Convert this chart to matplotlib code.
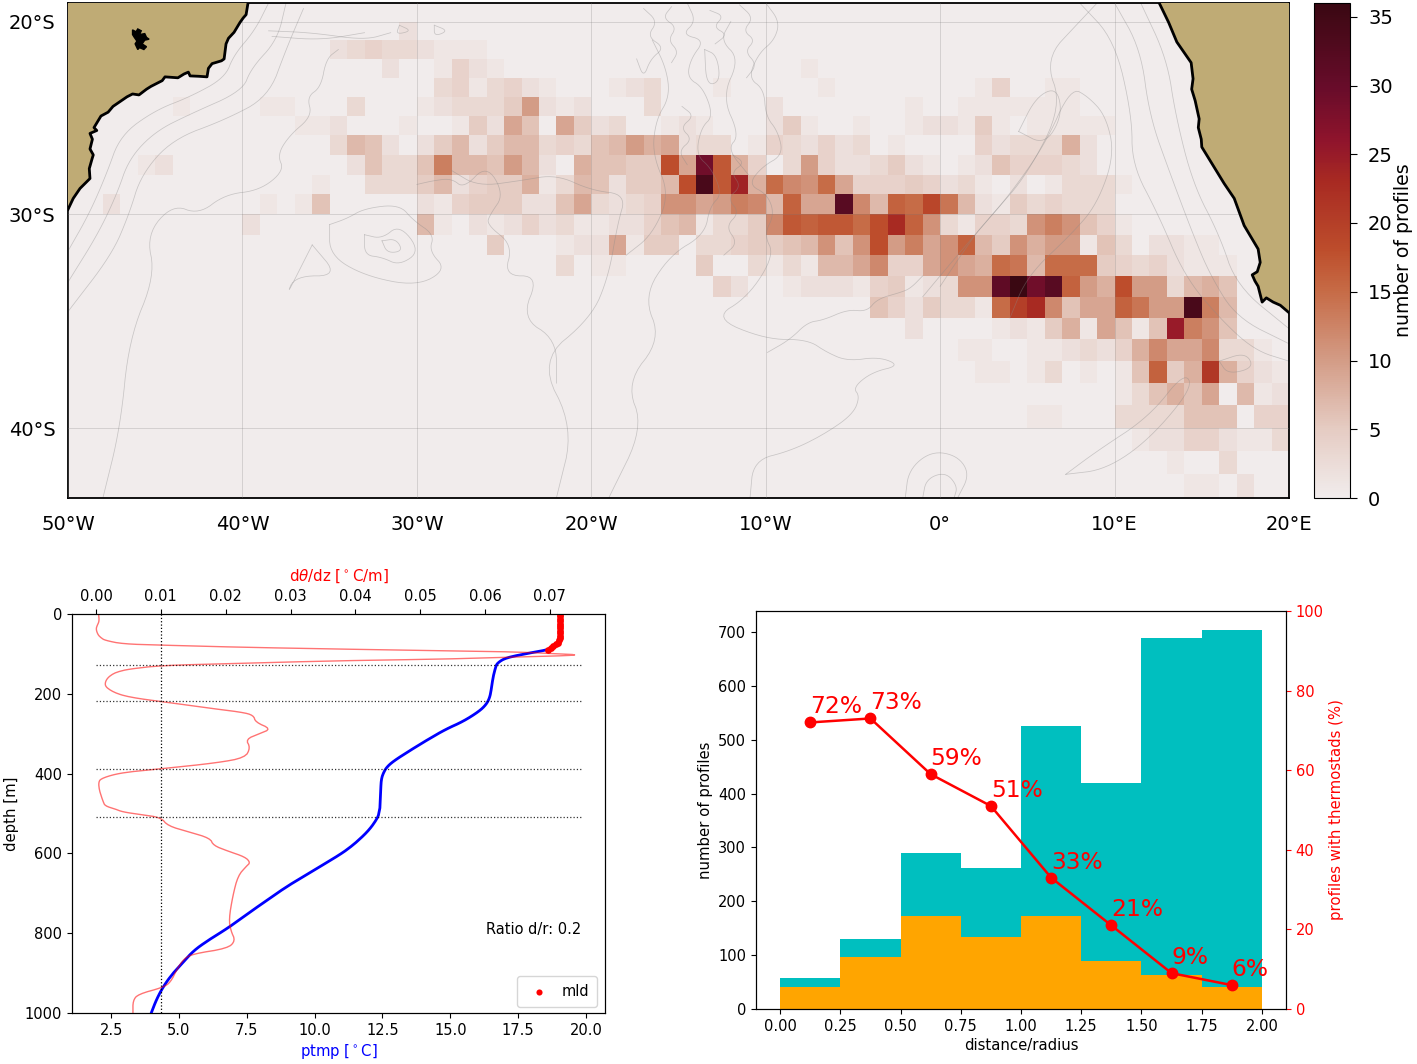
import numpy as np
import matplotlib
matplotlib.use("Agg")
import matplotlib.pyplot as plt
from matplotlib.colors import LinearSegmentedColormap
from matplotlib.patches import Polygon

W, H = 1417, 1064

# ---- top map data: profile counts per 1 degree box (first column index, values)
# row N = latitude band -(19+N) .. -(20+N); column 0 = 50W .. 49W
row01 = (19, [2])
row02 = (15, [2,3,4,3,3,2,1,1,1])
row03 = (18, [2,0,0,1,4,2,1,0,0,0,0,0,0,0,0,0,0,0,0,0,0,0,0,0,1])
row04 = (21, [3,4,1,3,4,2,1,0,0,0,1,2,3,0,0,0,1,0,0,0,0,0,1,0,0,0,0,0,0,0,0,1,4,0,0,1,1])
row05 = (6, [1,0,0,0,0,1,1,0,0,0,3,0,0,0,1,2,3,3,3,5,10,2,1,2,0,0,0,3,0,0,0,0,0,0,2,0,0,0,0,0,0,0,1,0,0,1,1,1,1,1,1,1])
row06 = (13, [1,1,2,0,0,0,1,0,0,1,5,2,9,6,0,9,5,2,3,0,0,1,2,1,0,0,0,2,5,1,0,0,1,0,0,1,2,2,1,5,1,0,1,1,1,1,1])
row07 = (15, [3,7,6,2,0,2,5,7,2,5,7,7,3,4,3,6,7,10,8,9,2,3,3,0,1,4,3,2,4,2,3,0,1,0,0,0,0,4,2,3,3,3,8,2])
row08 = (4, [1,2,0,0,0,0,0,0,0,0,0,0,2,6,3,3,6,13,7,7,6,10,7,2,0,8,6,6,5,5,18,9,29,17,8,4,0,3,10,4,2,2,3,5,2,1,0,1,2,6,4,4,4,3,2])
row09 = (14, [1,0,0,3,3,3,5,7,2,4,5,5,8,1,3,7,6,2,5,5,7,18,34,17,24,8,15,12,11,15,9,4,4,4,5,4,2,3,1,0,2,0,1,3,3,3,1])
row10 = (2, [2,0,0,0,0,0,0,0,0,1,0,1,6,0,0,0,0,0,2,1,4,5,5,5,2,2,6,9,3,2,3,4,11,11,9,10,13,12,7,16,9,9,32,12,7,16,15,19,14,7,2,1,5,3,4,3,3,3])
row11 = (10, [2,0,0,0,0,0,0,0,0,0,7,1,0,2,1,2,4,2,3,1,1,2,2,4,6,7,1,3,3,5,12,17,16,17,17,15,18,23,16,11,3,1,4,4,3,11,13,11,6,4,1])
row12 = (24, [5,0,0,0,1,2,2,9,1,5,5,0,3,3,4,5,5,6,7,11,6,11,18,10,13,9,11,16,7,5,11,8,10,10,1,6,3,0,2,2,1,1])
row13 = (28, [3,0,1,1,0,0,0,0,5,0,0,3,1,3,1,7,7,9,12,4,4,9,11,9,8,15,14,7,15,15,15,5,4,3,4,2,1,1,1])
row14 = (37, [4,2,0,0,1,2,2,2,1,4,5,1,2,3,11,11,31,36,29,32,16,10,8,18,10,10,3,7,8,6])
row15 = (46, [6,4,2,5,3,3,1,15,20,23,12,6,9,9,16,14,10,10,34,13,7])
row16 = (48, [2,0,0,0,0,1,2,1,5,8,1,9,6,1,6,25,13,11,6])
row17 = (51, [1,1,0,0,1,1,2,3,2,4,8,12,9,9,12,3,3,1])
row18 = (52, [1,1,0,1,3,0,1,0,1,6,16,5,8,21,8,4,2,1])
row19 = (60, [1,3,6,8,6,9,0,7,1,2])
row20 = (55, [1,1,0,0,0,3,3,3,3,6,6,6,0,4,4])
row21 = (61, [1,2,2,4,4,2,1,1,3])
row22 = (63, [1,0,0,3])
row23 = (64, [1,1,0,2])
map_rows = {1: row01, 2: row02, 3: row03, 4: row04, 5: row05, 6: row06, 7: row07, 8: row08,
            9: row09, 10: row10, 11: row11, 12: row12, 13: row13, 14: row14, 15: row15,
            16: row16, 17: row17, 18: row18, 19: row19, 20: row20, 21: row21, 22: row22, 23: row23}

lon_ticks = [-50, -40, -30, -20, -10, 0, 10, 20]
lon_labels = ['50°W', '40°W', '30°W', '20°W', '10°W', '0°', '10°E', '20°E']
lat_ticks = [-20, -30, -40]
lat_labels = ['20°S', '30°S', '40°S']
cbar_ticks = [0, 5, 10, 15, 20, 25, 30, 35]

sa_lon = [-39.68,-39.79,-39.95,-40.14,-40.48,-40.8,-40.94,-41.05,-41.2,-41.74,-41.95,-42.03,-42.5,-43.0,-43.1,-43.35,-43.7,-44.44,-44.6,-45.24,-45.5,-45.93,-46.3,-46.62,-47.42,-47.7,-48.11,-48.51,-48.35,-48.74,-48.6,-48.74,-48.55,-48.62,-48.78,-48.74,-49.31,-49.7,-50.0]
sa_lat = [-19.0,-19.63,-19.8,-20.05,-20.58,-20.9,-21.2,-22.0,-22.1,-22.25,-22.5,-22.95,-22.92,-22.9,-22.7,-22.8,-23.0,-22.95,-23.15,-23.45,-23.6,-23.9,-23.85,-24.0,-24.5,-24.8,-25.0,-25.6,-25.75,-25.9,-26.2,-26.7,-27.0,-27.2,-27.7,-28.2,-28.7,-29.2,-29.75]
af_lon = [12.56,13.1,13.57,14.39,14.5,14.42,14.62,14.85,14.8,14.97,15.0,15.31,16.28,16.86,17.43,18.23,18.35,18.18,17.89,18.05,18.23,18.46,18.7,19.09,19.5,20.0]
af_lat = [-19.0,-20.05,-21.1,-22.2,-23.05,-23.6,-24.2,-25.15,-25.6,-26.2,-26.6,-27.05,-28.45,-29.2,-30.55,-31.7,-32.35,-32.8,-32.95,-33.25,-33.5,-34.25,-34.05,-34.25,-34.4,-34.75]
lake_lon = [-46.3,-46.1,-46.0,-45.8,-45.9,-45.6,-45.5,-45.35,-45.6,-45.75,-45.5,-45.65,-45.9,-46.0,-46.15,-46.05,-46.2,-46.3]
lake_lat = [-20.45,-20.55,-20.4,-20.5,-20.7,-20.65,-20.85,-20.95,-21.0,-21.2,-21.35,-21.5,-21.4,-21.5,-21.2,-21.05,-20.85,-20.7]

bathy_lines = [
    [(-38.5,-19.0),(-39.3,-20.5),(-40.5,-21.8),(-41.0,-23),(-43,-24),(-45,-24.7),(-47,-26),(-47.8,-28),(-48.8,-30),(-50,-31.8)],
    [(-37.5,-19.0),(-38,-21),(-39.5,-22.5),(-40.0,-23.7),(-43,-24.9),(-45,-25.8),(-46.5,-27.2),(-47.2,-29),(-48.3,-31),(-50,-33.3)],
    [(-36.5,-19.3),(-37.5,-21.5),(-38.5,-24),(-41,-25.2),(-44,-26.2),(-45.8,-28),(-46.5,-30),(-47.5,-32),(-50,-34.7)],
    [(-34.5,-21.5),(-35.2,-22),(-35.5,-23.5),(-36.3,-24),(-36,-25),(-37.3,-26),(-38,-27),(-37.6,-27.8),(-39,-28.8),(-41,-29),(-42.5,-30),(-44,-29.5),(-45.5,-31),(-45,-33),(-46.5,-36),(-47,-40),(-48,-43)],
    [(-38.5,-20.5),(-36,-20.6),(-33,-21),(-31.5,-20.6)],
    [(-38.3,-20.8),(-35.5,-21),(-33,-20.6)],
    [(-31,-20.2),(-30.3,-20.5),(-31.2,-20.7),(-31,-20.2)],
    [(-29,-20.2),(-28.2,-20.5),(-29,-20.8),(-29,-20.2)],
    [(-35,-30.5),(-34,-30.2),(-33,-29.7),(-31,-29.5),(-30.2,-30.3),(-29,-31),(-29.3,-31.8),(-28.3,-32.7),(-30,-33.5),(-33,-33),(-35,-32),(-35,-30.5)],
    [(-33,-31),(-32,-31.2),(-31,-30.5),(-29.8,-31.8),(-31,-32.5),(-32,-32.1),(-33,-32),(-33,-31)],
    [(-32,-31.3),(-31.2,-31.2),(-30.8,-31.8),(-31.7,-31.9),(-32,-31.3)],
    [(-36,-31.5),(-34.5,-33),(-37,-33),(-37.5,-34),(-36,-31.5)],
    [(-30,-28.5),(-29,-28.3),(-28,-28.2),(-27.3,-28.7),(-26,-27.5),(-25,-29),(-25.8,-30),(-26,-30.5),(-24.5,-31.5),(-25,-33),(-23,-33),(-24,-35),(-22,-36),(-22,-38)],
    [(-28,-27.8),(-26.5,-28.6),(-24,-28.3),(-22,-28),(-20,-28.8),(-18,-29),(-18.5,-30.5),(-19,-33),(-20,-35),(-23,-37),(-21,-40),(-22,-43)],
    [(-14.5,-19),(-14,-20),(-14.8,-20.7),(-13.5,-21),(-14.3,-22),(-14.5,-23),(-13.6,-23.5),(-13,-25),(-13.7,-25.6),(-14,-27),(-13.1,-27.7),(-12.5,-29),(-13.2,-29.6),(-13.5,-31),(-15.5,-32),(-17,-34),(-16,-36),(-18,-38),(-17,-40),(-19,-43)],
    [(-10,-19),(-9.2,-20),(-9.5,-21),(-10.4,-21.7),(-11,-23),(-10.1,-23.6),(-10,-25),(-9.3,-25.8),(-9,-27),(-10.2,-27.6),(-11,-28.5),(-9.9,-29),(-9.5,-30),(-10.1,-31),(-9.5,-32),(-11,-34),(-13,-35),(-10,-36),(-7.6,-36),(-6.5,-36.6),(-5.3,-37),(-3.5,-36.8),(-2.3,-37.2),(-3.9,-37.5),(-5,-38.2),(-4.6,-38.6),(-5,-39.4),(-6.7,-40.3),(-8.6,-41),(-10.7,-41.4),(-10.9,-43)],
    [(-16.5,-21),(-15.7,-22.5),(-15.5,-24),(-16.3,-25.2),(-16.5,-27),(-15.5,-29),(-16.5,-31),(-18,-32)],
    [(-12,-20),(-12.6,-21),(-11.5,-22),(-12.5,-24),(-11.5,-26),(-12.2,-26.7),(-11,-28)],
    [(-13.5,-21.5),(-12.8,-21.8),(-12.6,-23.2),(-13.4,-23.4),(-13.5,-21.5)],
    [(-17,-19.3),(-16.2,-20),(-16.8,-20.8),(-15.8,-21.4),(-16.6,-22),(-17,-23),(-17.4,-22)],
    [(-15.4,-19.2),(-15.9,-19.8),(-15.1,-20.3),(-15.6,-21),(-15,-21.6),(-15.4,-22.2)],
    [(-13.2,-19.4),(-12.4,-19.7),(-13,-20.3),(-12.2,-20.7),(-12.9,-21.2)],
    [(-11.5,-19.1),(-10.7,-19.8),(-11.3,-20.5),(-10.6,-21),(-11.2,-21.6),(-10.5,-22.3),(-11.1,-23)],
    [(-14.8,-24.5),(-14.1,-25),(-14.9,-25.6),(-14.2,-26.2),(-15,-26.8),(-14.5,-27.5)],
    [(-11.9,-27),(-11.2,-27.4),(-12,-27.9),(-11.4,-28.6),(-12.2,-29.2),(-11.5,-29.9),(-12.3,-30.6),(-11.6,-31.4),(-12.4,-32)],
    [(-9.9,-36.6),(-8.6,-36),(-7.6,-35.2),(-6.7,-35.1),(-5.3,-34.6),(-4.2,-34.7),(-3.6,-34.1),(-2.3,-33.8),(-1.7,-33.6),(-1,-33)],
    [(-1,-34),(1,-32),(3,-30),(5,-28),(7,-24.5),(6,-22),(8,-20),(9,-19)],
    [(0,-33.5),(2,-31),(2.4,-30.6),(4,-29),(6,-26.5),(7.5,-23.5),(8.5,-24),(9.5,-25),(10,-27),(9,-29.5),(7.5,-31),(5,-33),(4,-35)],
    [(4.5,-25.8),(5.5,-24),(6.7,-23.5),(7,-25),(6,-26.5),(4.5,-25.8)],
    [(8,-19),(10,-21),(11,-25),(11,-27.5),(12.5,-30),(14,-33),(16,-35),(18,-36.5),(20,-37)],
    [(10,-19),(11.5,-21.5),(12,-25),(13.2,-28),(14.5,-31),(15.5,-33),(17,-35),(20,-36.2)],
    [(11.5,-19),(13,-22),(13.5,-25),(14.5,-28.5),(16,-31),(17,-33.5),(20,-35.5)],
    [(7.2,-42),(9,-41),(12,-39.5),(14,-37.5),(14.5,-38.2),(12,-40.5),(9.5,-41.8),(7.2,-42)],
    [(-2,-43),(-1.8,-41.8),(-0.5,-41),(1,-41.2),(1.7,-42),(1,-43)],
    [(-1,-43),(-0.8,-42.2),(0.3,-41.9),(1,-42.5),(0.8,-43)],
    [(16,-37),(17.5,-36.6),(18,-37.3),(16.5,-37.6),(16,-37)],
]

# ---- left panel
ptmp = [19.03,19.03,18.97,18.64,18.06,17.3,17.0,16.84,16.72,16.68,16.58,16.51,16.45,16.32,16.06,15.48,14.83,14.19,13.54,12.9,12.64,12.51,12.46,12.44,12.42,12.38,12.35,12.25,12.12,11.95,11.73,11.4,10.96,9.93,9.02,8.38,7.6,6.83,6.05,5.54,5.15,4.76,4.44,4.18,3.98]
ptmp_z = [0,64,77,89,96,106,112,118,125,131,156,189,210,227,244,269,289,314,341,369,385,402,415,431,481,495,506,518,531,545,560,580,602,644,681,711,748,786,819,844,873,902,932,965,1000]
grad = [.0004,.0005,.0002,0,.0003,.0008,.0014,.0041,.0100,.0214,.0376,.0539,.0647,.0701,.0755,.0647,.0539,.0376,.0214,.0100,.0051,.0033,.0024,.0017,.0014,.0015,.0022,.0032,.0046,.0070,.0100,.0160,.0225,.0243,.0246,.0270,.0252,.0231,.0238,.0230,.0187,.0100,.0060,.0030,.0007,.0004,.0005,.0008,.0011,.0014,.0030,.0041,.0070,.0100,.0111,.0143,.0176,.0181,.0203,.0230,.0238,.0232,.0219,.0211,.0205,.0208,.0215,.0203,.0149,.0135,.0125,.0115,.0103,.0065,.0057,.0057]
grad_z = [0,18,28,38,52,60,66,75,78,83,88,92,95,99,103,108,113,117,124,129,138,145,152,162,173,182,191,199,206,213,219,233,246,254,271,288,300,314,335,360,373,388,394,401,413,423,440,456,470,481,489,496,503,510,531,546,562,580,594,609,623,632,656,706,765,794,819,838,852,865,890,923,936,953,969,1000]
mld_t = [19.03,19.03,19.04,19.05,19.05,19.05,19.05,19.05,19.05,19.04,19.03,19.0,18.97,18.9,18.8,18.7,18.6]
mld_z = [0,6,12,18,24,30,36,42,48,54,60,66,72,76,80,85,90]
layer_z = [129, 218, 388, 510]
grad_crit = 0.01

# ---- right panel
bin_edges = [0.0,0.25,0.5,0.75,1.0,1.25,1.5,1.75,2.0]
all_profiles = [57,130,290,262,525,420,688,703]
thermostad_profiles = [41,96,172,133,173,89,64,41]
bin_mid = [0.125,0.375,0.625,0.875,1.125,1.375,1.625,1.875]
percent = [72,73,59,51,33,21,9,6]

amp = LinearSegmentedColormap.from_list('amp', [
    (0.0, '#f1ecec'), (0.14, '#e5cbc2'), (0.28, '#d39b85'), (0.42, '#c66a45'),
    (0.5, '#bd4e2c'), (0.64, '#a82a22'), (0.72, '#90142c'), (0.83, '#680c2a'), (1.0, '#3a0812')])


def axes_px(fig, l, t, r, b):
    return fig.add_axes([l / W, 1 - b / H, (r - l) / W, (b - t) / H])


def merc(lat):
    return np.log(np.tan(np.pi / 4 + np.radians(np.asarray(lat, float)) / 2))


def imerc(m):
    return np.degrees(2 * np.arctan(np.exp(np.asarray(m, float))) - np.pi / 2)


def rounded(xs, ys, n=3):
    # corner cutting, so the read-off vertices draw as a smooth curve
    p = np.column_stack([xs, ys]).astype(float)
    for _ in range(n):
        q = 0.75 * p[:-1] + 0.25 * p[1:]
        r = 0.25 * p[:-1] + 0.75 * p[1:]
        s = np.empty((2 * len(q), 2))
        s[0::2], s[1::2] = q, r
        p = np.vstack([p[:1], s, p[-1:]])
    return p[:, 0], p[:, 1]


fig = plt.figure(figsize=(W / 100, H / 100), dpi=100)

# ---------- map
ax = axes_px(fig, 68, 3, 1289, 498)
counts = np.zeros((24, 70))
for r, (c0, vals) in map_rows.items():
    counts[r, c0:c0 + len(vals)] = vals
lon_e = np.arange(-50, 21)
lat_e = -19.0 - np.arange(25)
ax.set_yscale('function', functions=(merc, imerc))
qm = ax.pcolormesh(lon_e, lat_e, counts, cmap=amp, vmin=0, vmax=36, zorder=1)
for line in bathy_lines:
    xs, ys = zip(*line)
    xr, yr = rounded(xs, ys)
    ax.plot(xr, yr, color='#8a8a8a', lw=0.55, alpha=0.4, zorder=2)
ax.add_patch(Polygon(list(zip(sa_lon, sa_lat)) + [(-50, -19)], fc='#bfab75', ec='none', zorder=3))
ax.add_patch(Polygon(list(zip(af_lon, af_lat)) + [(20, -19)], fc='#bfab75', ec='none', zorder=3))
ax.plot(sa_lon, sa_lat, color='k', lw=2, zorder=4)
ax.plot(af_lon, af_lat, color='k', lw=2, zorder=4)
ax.fill(lake_lon, lake_lat, color='k', zorder=4)
ax.set_xlim(-50, 20)
ax.set_ylim(-43, -19)
ax.set_xticks(lon_ticks, lon_labels, fontsize=14)
ax.set_yticks(lat_ticks, lat_labels, fontsize=14)
ax.minorticks_off()
ax.tick_params(axis='x', length=0, pad=12)
ax.tick_params(axis='y', length=0, pad=9)
ax.grid(True, color='#808080', lw=0.6, alpha=0.3, zorder=5)
ax.set_axisbelow(False)
for s in ax.spines.values():
    s.set_linewidth(1.3)

cax = axes_px(fig, 1314, 3, 1350, 498)
cb = fig.colorbar(qm, cax=cax, ticks=cbar_ticks)
cb.ax.tick_params(labelsize=14, length=5, pad=8)
cb.set_label('number of profiles', fontsize=13.6, labelpad=1)

# ---------- left panel
a1 = axes_px(fig, 72, 614, 605, 1013)
xb, zb = rounded(ptmp, ptmp_z, 2)
a1.plot(xb, zb, color='b', lw=2, zorder=3)
a1.scatter(mld_t, mld_z, s=24, color='r', zorder=4, lw=0, label='mld')
a1.set_xlim(1.06, 20.7)
a1.set_ylim(1000, 0)
a1.set_xlabel('ptmp [$^\\circ$C]', color='b', fontsize=10.7, labelpad=3)
a1.set_ylabel('depth [m]', fontsize=10.7, labelpad=4)
a1.tick_params(labelsize=10.5)
a1.text(0.955, 0.21, 'Ratio d/r: 0.2', transform=a1.transAxes, ha='right', va='center', fontsize=10.5)
a1.legend(loc='lower right', fontsize=10.5, markerscale=0.9, borderpad=0.55, handletextpad=0.5,
          bbox_to_anchor=(0.985, 0.015), borderaxespad=0)
a2 = a1.twiny()
xg, zg = rounded(grad, grad_z, 2)
a2.plot(xg, zg, color='r', lw=1, alpha=0.55, zorder=2)
a2.set_xlim(-0.0037, 0.0785)
a2.set_ylim(1000, 0)
a2.plot([grad_crit, grad_crit], [0, 1000], color='k', lw=0.9, ls=':', zorder=2)
for z in layer_z:
    a2.plot([0, 0.0748], [z, z], color='k', lw=0.9, ls=':', alpha=0.8, zorder=2)
a2.set_xlabel('d$\\theta$/dz [$^\\circ$C/m]', color='r', fontsize=10.8, labelpad=6)
a2.set_xticks([0, .01, .02, .03, .04, .05, .06, .07], ['0.00', '0.01', '0.02', '0.03', '0.04', '0.05', '0.06', '0.07'])
a2.tick_params(labelsize=10.5)

# ---------- right panel
b1 = axes_px(fig, 756, 611, 1286, 1009)
b1.stairs(all_profiles, bin_edges, fill=True, color='#00bfbf', zorder=1)
b1.stairs(thermostad_profiles, bin_edges, fill=True, color='orange', zorder=2)
b1.set_xlim(-0.1, 2.1)
b1.set_ylim(0, 739)
b1.set_xticks(bin_edges, ['0.00', '0.25', '0.50', '0.75', '1.00', '1.25', '1.50', '1.75', '2.00'])
b1.set_yticks([0, 100, 200, 300, 400, 500, 600, 700])
b1.tick_params(labelsize=10.5)
b1.set_xlabel('distance/radius', fontsize=10.7, labelpad=3)
b1.set_ylabel('number of profiles', fontsize=10.7, labelpad=4)
b2 = b1.twinx()
b2.plot(bin_mid, percent, color='r', lw=1.8, marker='o', ms=7.5, zorder=5)
for x, p in zip(bin_mid, percent):
    b2.text(x, p + 1.0, f'{p}%', color='r', fontsize=16.8, ha='left', va='bottom')
b2.set_ylim(0, 100)
b2.set_yticks([0, 20, 40, 60, 80, 100])
b2.tick_params(axis='y', colors='r', labelsize=10.5)
b2.set_ylabel('profiles with thermostads (%)', color='r', fontsize=10.7, labelpad=4)

fig.savefig('out.png', dpi=100)
